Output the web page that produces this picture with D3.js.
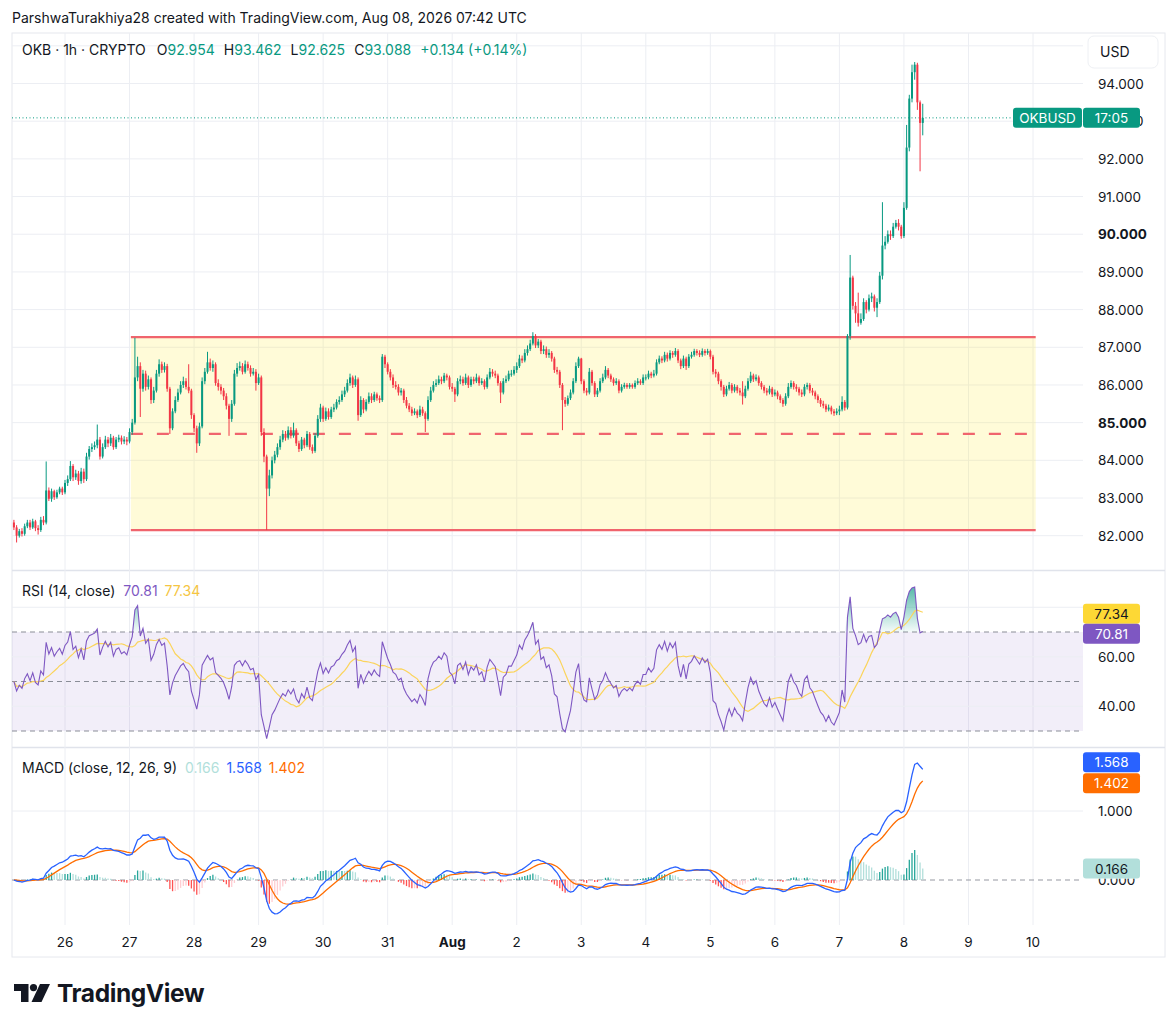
<!DOCTYPE html>
<html>
<head>
<meta charset="utf-8">
<script src="https://cdn.jsdelivr.net/npm/d3@7"></script>
<style>
  body { margin: 0; background: #fff; }
  svg { display: block; }
</style>
</head>
<body>
<div id="chart"></div>
<script>
// hourly OKB/USD bars, first bar Jul 25 05:00 UTC, last bar Aug 8 07:00 UTC
const firstBar = Date.UTC(2026, 6, 25, 5)
const firstOpen = 82.35

const closes = [
  // Jul 25
  82.22, 82.00, 82.12, 82.05, 82.25, 82.35, 82.22, 82.38, 82.20, 82.15, 82.42, 82.35, 83.20, 82.98, 83.18, 83.02, 83.15, 83.25, 83.15,
  // Jul 26
  83.40, 83.50, 83.85, 83.55, 83.65, 83.45, 83.70, 83.50, 84.10, 84.30, 84.35, 84.40, 84.55, 84.10, 84.35, 84.55, 84.45, 84.60, 84.35, 84.55, 84.60, 84.50, 84.55, 84.50,
  // Jul 27
  84.75, 85.00, 86.20, 86.50, 85.90, 86.30, 85.95, 86.15, 85.60, 85.85, 86.30, 86.55, 86.40, 86.50, 85.90, 84.85, 85.30, 85.60, 85.80, 86.00, 86.10, 85.95, 85.85, 85.20,
  // Jul 28
  84.85, 84.45, 84.90, 86.10, 86.35, 86.60, 86.45, 86.55, 86.05, 85.95, 85.85, 85.70, 85.45, 85.10, 85.50, 86.30, 86.45, 86.50, 86.35, 86.55, 86.45, 86.30, 86.35, 86.05,
  // Jul 29
  86.20, 84.75, 84.10, 83.25, 83.60, 84.00, 84.15, 84.35, 84.55, 84.70, 84.60, 84.80, 84.65, 84.80, 84.45, 84.30, 84.55, 84.40, 84.70, 84.35, 84.25, 84.65, 85.10, 85.40,
  // Jul 30
  85.10, 85.30, 85.15, 85.35, 85.40, 85.55, 85.60, 85.75, 85.85, 86.05, 86.20, 86.00, 86.15, 85.20, 85.60, 85.35, 85.55, 85.70, 85.60, 85.75, 85.65, 85.60, 86.75, 86.55,
  // Jul 31
  86.35, 86.20, 86.00, 85.95, 85.80, 85.85, 85.60, 85.45, 85.35, 85.25, 85.30, 85.20, 85.35, 85.25, 85.10, 85.60, 85.85, 86.00, 86.05, 86.15, 86.10, 86.25, 86.20, 85.95,
  // Aug 1
  85.90, 85.75, 86.10, 86.15, 86.05, 86.20, 86.00, 86.15, 86.10, 86.20, 86.05, 86.10, 85.95, 86.20, 86.35, 86.30, 86.25, 86.05, 85.80, 86.10, 86.15, 86.30, 86.30, 86.40,
  // Aug 2
  86.50, 86.70, 86.65, 86.85, 86.95, 87.10, 87.30, 87.05, 87.15, 86.90, 86.95, 86.80, 86.85, 86.70, 86.40, 86.35, 86.00, 85.60, 85.50, 85.65, 85.80, 86.10, 86.50, 86.70,
  // Aug 3
  86.10, 85.85, 85.80, 86.35, 86.05, 85.75, 85.85, 86.10, 86.20, 86.40, 86.25, 86.15, 86.05, 86.10, 85.85, 85.95, 86.00, 85.95, 86.00, 85.95, 86.05, 86.10, 86.05, 86.20,
  // Aug 4
  86.20, 86.30, 86.25, 86.30, 86.60, 86.70, 86.65, 86.80, 86.70, 86.85, 86.80, 86.90, 86.65, 86.50, 86.70, 86.50, 86.75, 86.80, 86.90, 86.85, 86.80, 86.90, 86.85, 86.90,
  // Aug 5
  86.75, 86.35, 86.30, 86.10, 85.95, 85.75, 85.90, 86.00, 85.85, 85.95, 85.85, 85.80, 85.70, 85.90, 86.10, 86.25, 86.15, 86.20, 86.05, 85.95, 85.85, 85.80, 85.90, 85.75,
  // Aug 6
  85.80, 85.70, 85.60, 85.50, 85.70, 85.95, 86.05, 85.95, 85.90, 85.80, 85.75, 85.95, 86.00, 85.85, 85.80, 85.70, 85.60, 85.50, 85.45, 85.35, 85.40, 85.30, 85.25, 85.30,
  // Aug 7
  85.35, 85.55, 85.40, 87.30, 88.85, 88.10, 87.90, 87.65, 87.75, 88.20, 88.00, 88.30, 88.35, 88.05, 88.20, 88.90, 89.70, 89.80, 90.00, 89.95, 90.20, 90.30, 90.20, 89.95,
  // Aug 8
  90.70, 92.30, 93.60, 94.30, 94.50, 93.50, 92.954, 93.088
]

const highs = [
  82.42, 82.28, 82.18, 82.20, 82.32, 82.42, 82.42, 82.45, 82.42, 82.28, 82.50, 82.52, 83.97, 83.28, 83.25, 83.22, 83.22, 83.30, 83.30,
  83.48, 83.60, 83.98, 83.90, 83.75, 83.72, 83.80, 83.78, 84.20, 84.38, 84.45, 84.50, 84.95, 84.62, 84.45, 84.65, 84.62, 84.70, 84.65, 84.62, 84.68, 84.66, 84.64, 84.62,
  84.85, 85.10, 87.25, 86.75, 86.60, 86.40, 86.38, 86.25, 86.20, 85.95, 86.40, 86.68, 86.62, 86.60, 86.56, 85.95, 85.38, 85.70, 85.90, 86.10, 86.22, 86.18, 86.55, 85.90,
  85.25, 84.92, 85.00, 86.20, 86.45, 86.88, 86.70, 86.65, 86.60, 86.15, 86.02, 85.92, 85.78, 85.50, 85.60, 86.40, 86.58, 86.62, 86.58, 86.65, 86.62, 86.52, 86.45, 86.42,
  86.30, 86.25, 84.85, 84.15, 83.75, 84.10, 84.25, 84.45, 84.65, 84.80, 84.78, 84.90, 84.88, 85.00, 84.85, 84.52, 84.62, 84.60, 84.78, 84.75, 84.42, 84.72, 85.20, 85.50,
  85.45, 85.40, 85.38, 85.42, 85.50, 85.62, 85.70, 85.85, 85.95, 86.15, 86.30, 86.25, 86.25, 86.20, 85.70, 85.65, 85.62, 85.80, 85.78, 85.82, 85.80, 85.72, 86.82, 86.80,
  86.60, 86.42, 86.28, 86.10, 86.02, 85.92, 85.90, 85.68, 85.52, 85.42, 85.38, 85.35, 85.45, 85.42, 85.30, 85.70, 85.95, 86.10, 86.15, 86.25, 86.22, 86.32, 86.30, 86.25,
  86.05, 85.95, 86.18, 86.25, 86.22, 86.30, 86.25, 86.22, 86.22, 86.30, 86.25, 86.18, 86.15, 86.28, 86.45, 86.42, 86.38, 86.30, 86.10, 86.18, 86.25, 86.38, 86.40, 86.50,
  86.60, 86.80, 86.78, 86.95, 87.05, 87.20, 87.40, 87.35, 87.22, 87.20, 87.05, 87.02, 86.95, 86.90, 86.75, 86.48, 86.40, 86.05, 85.68, 85.72, 85.88, 86.18, 86.60, 86.75,
  86.72, 86.15, 85.92, 86.45, 86.40, 86.10, 85.92, 86.18, 86.30, 86.50, 86.45, 86.30, 86.20, 86.18, 86.15, 86.02, 86.06, 86.05, 86.05, 86.04, 86.12, 86.18, 86.15, 86.28,
  86.28, 86.38, 86.35, 86.40, 86.68, 86.78, 86.76, 86.88, 86.86, 86.92, 86.90, 86.98, 86.95, 86.70, 86.78, 86.75, 86.82, 86.88, 86.96, 86.95, 86.92, 86.97, 86.95, 86.96,
  86.94, 86.80, 86.42, 86.35, 86.15, 86.00, 85.98, 86.08, 86.05, 86.02, 86.00, 85.92, 86.10, 85.98, 86.18, 86.35, 86.30, 86.28, 86.25, 86.10, 86.00, 85.92, 85.98, 85.95,
  85.88, 85.85, 85.75, 85.65, 85.78, 86.05, 86.12, 86.10, 86.02, 85.95, 85.88, 86.02, 86.06, 86.05, 85.92, 85.85, 85.75, 85.65, 85.58, 85.50, 85.48, 85.45, 85.36, 85.38,
  85.45, 85.70, 85.60, 87.35, 89.45, 88.90, 88.20, 88.45, 87.90, 88.30, 88.25, 88.40, 88.45, 88.40, 88.30, 89.00, 90.85, 89.95, 90.10, 90.10, 90.30, 90.38, 90.40, 90.25,
  90.85, 92.90, 93.70, 94.50, 94.57, 94.55, 93.55, 93.462
]

const lows = [
  82.15, 81.82, 81.95, 81.98, 82.00, 82.20, 82.15, 82.18, 82.12, 82.03, 82.10, 82.28, 82.30, 82.92, 82.90, 82.95, 82.98, 83.10, 83.08,
  83.10, 83.32, 83.45, 83.45, 83.48, 83.35, 83.38, 83.40, 83.45, 84.02, 84.22, 84.28, 84.32, 84.02, 84.05, 84.30, 84.35, 84.38, 84.28, 84.30, 84.48, 84.42, 84.43, 84.40,
  84.45, 84.68, 84.95, 86.10, 85.15, 85.82, 85.85, 85.88, 85.50, 85.52, 85.80, 86.22, 86.32, 86.33, 85.82, 84.70, 84.80, 85.25, 85.55, 85.75, 85.92, 85.88, 85.78, 85.10,
  84.75, 84.20, 84.38, 84.85, 86.02, 86.30, 86.38, 86.35, 85.98, 85.85, 85.75, 85.60, 85.35, 84.65, 85.02, 85.45, 86.22, 86.38, 86.28, 86.30, 86.38, 86.22, 86.25, 85.85,
  86.00, 84.65, 83.95, 82.15, 83.05, 83.52, 83.92, 84.08, 84.28, 84.48, 84.52, 84.55, 84.58, 84.60, 84.38, 84.22, 84.25, 84.32, 84.35, 84.28, 84.18, 84.20, 84.60, 85.02,
  85.02, 85.05, 85.08, 85.10, 85.28, 85.35, 85.48, 85.55, 85.68, 85.80, 85.98, 85.92, 85.95, 85.05, 85.15, 85.25, 85.30, 85.50, 85.52, 85.55, 85.58, 85.52, 85.55, 86.45,
  86.28, 86.12, 85.92, 85.88, 85.72, 85.72, 85.52, 85.38, 85.28, 85.18, 85.20, 85.12, 85.15, 85.18, 84.75, 85.05, 85.55, 85.80, 85.95, 86.00, 86.02, 86.05, 86.12, 85.88,
  85.82, 85.55, 85.70, 86.02, 85.98, 86.00, 85.92, 85.95, 86.02, 86.05, 85.98, 86.00, 85.88, 85.90, 86.15, 86.22, 86.18, 85.98, 85.52, 85.75, 86.05, 86.10, 86.22, 86.25,
  86.32, 86.45, 86.58, 86.60, 86.78, 86.90, 87.05, 86.98, 86.98, 86.82, 86.82, 86.72, 86.72, 86.62, 86.32, 86.28, 85.92, 84.80, 85.42, 85.45, 85.60, 85.75, 86.05, 86.45,
  86.02, 85.78, 85.72, 85.75, 85.98, 85.68, 85.68, 85.80, 86.05, 86.15, 86.18, 86.08, 85.98, 86.00, 85.78, 85.80, 85.90, 85.90, 85.90, 85.90, 85.90, 86.00, 86.00, 86.00,
  86.12, 86.15, 86.18, 86.20, 86.25, 86.55, 86.58, 86.60, 86.62, 86.65, 86.72, 86.75, 86.58, 86.42, 86.45, 86.40, 86.45, 86.70, 86.75, 86.78, 86.74, 86.75, 86.78, 86.80,
  86.68, 86.28, 86.20, 86.02, 85.85, 85.68, 85.70, 85.85, 85.78, 85.80, 85.78, 85.72, 85.48, 85.65, 85.85, 86.05, 86.08, 86.10, 85.98, 85.88, 85.78, 85.72, 85.75, 85.68,
  85.70, 85.62, 85.52, 85.42, 85.45, 85.65, 85.90, 85.88, 85.82, 85.72, 85.68, 85.70, 85.88, 85.78, 85.72, 85.62, 85.52, 85.42, 85.38, 85.28, 85.30, 85.22, 85.18, 85.20,
  85.20, 85.30, 85.32, 85.35, 87.20, 88.00, 87.65, 87.55, 87.60, 87.70, 87.90, 87.95, 88.20, 87.95, 87.80, 88.15, 88.80, 89.60, 89.75, 89.85, 89.90, 90.15, 90.10, 89.88,
  89.90, 90.65, 92.20, 93.50, 94.10, 93.30, 91.67, 92.625
]

// range box drawn on the chart
const boxStart = Date.UTC(2026, 6, 27, 0, 30)
const boxEnd = Date.UTC(2026, 7, 10, 1)
const boxTop = 87.27
const boxBottom = 82.15
const boxMid = 84.70

const priceTicks = [82, 83, 84, 85, 86, 87, 88, 89, 90, 91, 92, 93, 94, 95]
const boldPrices = [85, 90]
const dayLabels = ['26', '27', '28', '29', '30', '31', 'Aug', '2', '3', '4', '5', '6', '7', '8', '9', '10']
const rsiGrid = [80, 60, 40]
const rsiTickLabels = [60, 40]
const rsiBands = [70, 50, 30]
const macdGrid = [1]

const lastPrice = 93.088
const legendOHLC = [['O', '92.954'], ['H', '93.462'], ['L', '92.625'], ['C', '93.088']]
const legendChange = '+0.134 (+0.14%)'
const rsiLast = 70.81, rsiMaLast = 77.34
const histLast = 0.166, macdLast = 1.568, signalLast = 1.402
const countdown = '17:05'

const up = '#089981', down = '#f23645'
const ink = '#131722', grid = '#eceef3'

const W = 1176, H = 1029
const left = 12, plotRight = 1083, frameRight = 1165
const mainTop = 33, mainBottom = 570
const rsiTop = 571, rsiBottom = 747
const macdTop = 748, macdBottom = 925
const frameBottom = 957

const bars = closes.map((c, i) => ({
  t: new Date(firstBar + i * 3600e3),
  o: i ? closes[i - 1] : firstOpen,
  h: highs[i], l: lows[i], c
}))

// RSI 14 (Wilder); history before the window is unknown, so start from a neutral state
const diffs = closes.map((c, i) => i ? c - closes[i - 1] : 0)
let avgG = d3.mean(diffs.slice(1, 15), Math.abs) / 2
let avgL = avgG
bars.forEach((b, i) => {
  if (i) {
    avgG = (avgG * 13 + Math.max(diffs[i], 0)) / 14
    avgL = (avgL * 13 + Math.max(-diffs[i], 0)) / 14
  }
  b.rsi = avgL === 0 ? 100 : 100 - 100 / (1 + avgG / avgL)
})
bars.forEach((b, i) => {
  b.rsiMa = d3.mean(bars.slice(Math.max(0, i - 13), i + 1), d => d.rsi)
})

// MACD 12 26 9
function ema(values, n) {
  const k = 2 / (n + 1)
  let e = values[0]
  return values.map((v, i) => (e = i ? v * k + e * (1 - k) : v))
}
const e12 = ema(closes, 12), e26 = ema(closes, 26)
const macd = closes.map((c, i) => e12[i] - e26[i])
const signal = ema(macd, 9)
bars.forEach((b, i) => {
  b.macd = macd[i]
  b.signal = signal[i]
  b.hist = macd[i] - signal[i]
  const prev = i ? macd[i - 1] - signal[i - 1] : 0
  b.histColor = b.hist >= 0 ? (b.hist >= prev ? '#26a69a' : '#b2dfdb') : (b.hist <= prev ? '#ff5252' : '#ffcdd2')
})

const x = d3.scaleUtc()
  .domain([new Date(Date.UTC(2026, 6, 26)), new Date(Date.UTC(2026, 7, 10))])
  .range([65, 1033])
const y = d3.scaleLinear().domain([82, 94]).range([535.7, 83.5])
const yRsi = d3.scaleLinear().domain([30, 70]).range([731, 632])
const yMacd = d3.scaleLinear().domain([0, 1]).range([880, 811])

const svg = d3.select('#chart').append('svg')
  .attr('width', W).attr('height', H)
  .style('font-family', 'Inter, "Noto Sans", sans-serif')

const defs = svg.append('defs')
function clip(id, y0, y1) {
  defs.append('clipPath').attr('id', id).append('rect')
    .attr('x', left).attr('y', y0).attr('width', plotRight - left).attr('height', y1 - y0)
}
clip('clipMain', mainTop, mainBottom)
clip('clipRsi', rsiTop, rsiBottom)
clip('clipMacd', macdTop, macdBottom)
// only the sliver of a price label that peeks out to the right of the countdown badge
defs.append('clipPath').attr('id', 'clipPeek').append('rect')
  .attr('x', 1140).attr('y', 0).attr('width', 30).attr('height', H)

const grad = defs.append('linearGradient').attr('id', 'obFill')
  .attr('gradientUnits', 'userSpaceOnUse')
  .attr('x1', 0).attr('x2', 0).attr('y1', yRsi(90)).attr('y2', yRsi(70))
grad.append('stop').attr('offset', 0).attr('stop-color', up).attr('stop-opacity', 0.75)
grad.append('stop').attr('offset', 1).attr('stop-color', up).attr('stop-opacity', 0.04)

// header
svg.append('text').attr('x', 12).attr('y', 23)
  .attr('font-size', 14).attr('fill', ink)
  .text('ParshwaTurakhiya28 created with TradingView.com, Aug 08, 2026 07:42 UTC')

// frame and pane separators
svg.append('rect').attr('x', left).attr('y', mainTop)
  .attr('width', frameRight - left).attr('height', frameBottom - mainTop)
  .attr('fill', 'none').attr('stroke', '#e6e8ee')
;[rsiTop, macdTop].forEach(v => {
  svg.append('line').attr('x1', left).attr('x2', frameRight).attr('y1', v - 0.5).attr('y2', v - 0.5)
    .attr('stroke', '#e0e3eb').attr('stroke-width', 1.5)
})

// vertical day grid
const days = d3.utcDay.range(new Date(Date.UTC(2026, 6, 26)), new Date(Date.UTC(2026, 7, 11)))
svg.append('g').selectAll('line').data(days).join('line')
  .attr('x1', d => x(d)).attr('x2', d => x(d))
  .attr('y1', mainTop).attr('y2', macdBottom)
  .attr('stroke', grid)

// price grid
svg.append('g').attr('clip-path', 'url(#clipMain)')
  .selectAll('line').data(priceTicks).join('line')
  .attr('x1', left).attr('x2', plotRight)
  .attr('y1', d => y(d)).attr('y2', d => y(d))
  .attr('stroke', grid)

// range box
const main = svg.append('g').attr('clip-path', 'url(#clipMain)')
main.append('rect')
  .attr('x', x(boxStart)).attr('y', y(boxTop))
  .attr('width', x(boxEnd) - x(boxStart)).attr('height', y(boxBottom) - y(boxTop))
  .attr('fill', 'rgba(255, 235, 59, 0.2)')
;[boxTop, boxBottom].forEach(v => {
  main.append('line').attr('x1', x(boxStart)).attr('x2', x(boxEnd))
    .attr('y1', y(v)).attr('y2', y(v))
    .attr('stroke', '#f0646d').attr('stroke-width', 2.2)
})
main.append('line').attr('x1', x(boxStart)).attr('x2', x(boxEnd))
  .attr('y1', y(boxMid)).attr('y2', y(boxMid))
  .attr('stroke', '#f0646d').attr('stroke-width', 2.2).attr('stroke-dasharray', '12 14')

// last price dotted line
main.append('line').attr('x1', left).attr('x2', 1013)
  .attr('y1', y(lastPrice)).attr('y2', y(lastPrice))
  .attr('stroke', up).attr('stroke-dasharray', '1 2.5')

// candles
const colorOf = d => d.c >= d.o ? up : down
main.append('g').selectAll('line').data(bars).join('line')
  .attr('x1', d => x(d.t)).attr('x2', d => x(d.t))
  .attr('y1', d => y(d.h)).attr('y2', d => y(d.l))
  .attr('stroke', colorOf).attr('stroke-width', 1)
main.append('g').selectAll('rect').data(bars).join('rect')
  .attr('x', d => x(d.t) - 1).attr('width', 2)
  .attr('y', d => y(Math.max(d.o, d.c)))
  .attr('height', d => Math.max(1, Math.abs(y(d.o) - y(d.c))))
  .attr('fill', colorOf)

// legend
const leg = svg.append('text').attr('x', 22).attr('y', 55).attr('font-size', 14).attr('fill', ink)
leg.append('tspan').text('OKB · 1h · CRYPTO')
legendOHLC.forEach(([k, v], i) => {
  leg.append('tspan').attr('dx', i ? 9 : 11).text(k)
  leg.append('tspan').attr('fill', up).text(v)
})
leg.append('tspan').attr('dx', 9).attr('fill', up).text(legendChange)

// price axis labels (93 sits behind the last-price badge)
svg.append('g').selectAll('text').data(priceTicks.filter(v => v < 95)).join('text')
  .attr('x', 1098).attr('y', d => y(d) + 5)
  .attr('font-size', 13.5).attr('fill', ink)
  .attr('font-weight', d => boldPrices.includes(d) ? 700 : 400)
  .attr('clip-path', d => d === 93 ? 'url(#clipPeek)' : null)
  .text(d => d3.format('.3f')(d))

svg.append('rect').attr('x', 1088).attr('y', 36).attr('width', 70).attr('height', 32).attr('rx', 6)
  .attr('fill', '#fff').attr('stroke', '#eef0f4')
svg.append('text').attr('x', 1100).attr('y', 57).attr('font-size', 14).attr('fill', ink).text('USD')

function badge(x0, w, cy, fill, label, color) {
  const g = svg.append('g')
  g.append('rect').attr('x', x0).attr('y', cy - 10).attr('width', w).attr('height', 20).attr('rx', 3).attr('fill', fill)
  g.append('text').attr('x', x0 + w / 2).attr('y', cy + 5).attr('text-anchor', 'middle')
    .attr('font-size', 13.5).attr('fill', color).text(label)
}
badge(1013, 69, y(lastPrice), up, 'OKBUSD', '#fff')
badge(1083, 57, y(lastPrice), up, countdown, '#fff')

// RSI pane
const rsiG = svg.append('g').attr('clip-path', 'url(#clipRsi)')
rsiG.append('rect').attr('x', left).attr('width', plotRight - left)
  .attr('y', yRsi(70)).attr('height', yRsi(30) - yRsi(70))
  .attr('fill', 'rgba(126, 87, 194, 0.1)')
rsiG.selectAll('line.g').data(rsiGrid).join('line')
  .attr('x1', left).attr('x2', plotRight).attr('y1', d => yRsi(d)).attr('y2', d => yRsi(d))
  .attr('stroke', grid)
rsiG.selectAll('line.b').data(rsiBands).join('line')
  .attr('x1', left).attr('x2', plotRight).attr('y1', d => yRsi(d)).attr('y2', d => yRsi(d))
  .attr('stroke', '#8a8d97').attr('stroke-dasharray', '5 4')
rsiG.append('path').datum(bars)
  .attr('d', d3.area().x(d => x(d.t)).y0(yRsi(70)).y1(d => yRsi(Math.max(70, d.rsi))))
  .attr('fill', 'url(#obFill)')
rsiG.append('path').datum(bars)
  .attr('d', d3.line().x(d => x(d.t)).y(d => yRsi(d.rsiMa)))
  .attr('fill', 'none').attr('stroke', '#fbd45b').attr('stroke-width', 1.2)
rsiG.append('path').datum(bars)
  .attr('d', d3.line().x(d => x(d.t)).y(d => yRsi(d.rsi)))
  .attr('fill', 'none').attr('stroke', '#7e57c2').attr('stroke-width', 1.1)

const rsiLeg = svg.append('text').attr('x', 22).attr('y', 596).attr('font-size', 14).attr('fill', ink)
rsiLeg.append('tspan').text('RSI (14, close)')
rsiLeg.append('tspan').attr('dx', 8).attr('fill', '#7e57c2').text(rsiLast.toFixed(2))
rsiLeg.append('tspan').attr('dx', 7).attr('fill', '#f5c542').text(rsiMaLast.toFixed(2))

svg.append('g').selectAll('text').data(rsiTickLabels).join('text')
  .attr('x', 1098).attr('y', d => yRsi(d) + 5).attr('font-size', 13.5).attr('fill', ink)
  .text(d => d.toFixed(2))
const maY = yRsi(rsiMaLast)
badge(1083, 57, maY, '#fdd835', rsiMaLast.toFixed(2), ink)
badge(1083, 57, Math.max(yRsi(rsiLast), maY + 20), '#7e57c2', rsiLast.toFixed(2), '#fff')

// MACD pane
const macdG = svg.append('g').attr('clip-path', 'url(#clipMacd)')
macdG.selectAll('line.g').data(macdGrid).join('line')
  .attr('x1', left).attr('x2', plotRight).attr('y1', d => yMacd(d)).attr('y2', d => yMacd(d))
  .attr('stroke', grid)
macdG.append('line').attr('x1', left).attr('x2', plotRight)
  .attr('y1', yMacd(0)).attr('y2', yMacd(0))
  .attr('stroke', '#9598a1').attr('stroke-dasharray', '5 4')
macdG.append('g').selectAll('line').data(bars).join('line')
  .attr('x1', d => x(d.t)).attr('x2', d => x(d.t))
  .attr('y1', yMacd(0)).attr('y2', d => yMacd(d.hist))
  .attr('stroke', d => d.histColor).attr('stroke-width', 1.3)
macdG.append('path').datum(bars)
  .attr('d', d3.line().x(d => x(d.t)).y(d => yMacd(d.signal)))
  .attr('fill', 'none').attr('stroke', '#ff6d00').attr('stroke-width', 1.3)
macdG.append('path').datum(bars)
  .attr('d', d3.line().x(d => x(d.t)).y(d => yMacd(d.macd)))
  .attr('fill', 'none').attr('stroke', '#2962ff').attr('stroke-width', 1.3)

const macdLeg = svg.append('text').attr('x', 22).attr('y', 773).attr('font-size', 14).attr('fill', ink)
macdLeg.append('tspan').text('MACD (close, 12, 26, 9)')
macdLeg.append('tspan').attr('dx', 8).attr('fill', '#b2dfdb').text(histLast.toFixed(3))
macdLeg.append('tspan').attr('dx', 7).attr('fill', '#2962ff').text(macdLast.toFixed(3))
macdLeg.append('tspan').attr('dx', 7).attr('fill', '#ff6d00').text(signalLast.toFixed(3))

// macd axis labels; the 0.000 label shows only below the histogram badge
defs.append('clipPath').attr('id', 'clipZero').append('rect')
  .attr('x', 1083).attr('y', yMacd(histLast) + 10).attr('width', 90).attr('height', 30)
svg.append('g').selectAll('text').data([1, 0]).join('text')
  .attr('x', 1098).attr('y', d => yMacd(d) + 5).attr('font-size', 13.5).attr('fill', ink)
  .attr('clip-path', d => d === 0 ? 'url(#clipZero)' : null)
  .text(d => d.toFixed(3))
const sigY = yMacd(signalLast)
badge(1083, 57, Math.min(yMacd(macdLast), sigY - 21), '#2962ff', macdLast.toFixed(3), '#fff')
badge(1083, 57, sigY, '#ff6d00', signalLast.toFixed(3), '#fff')
badge(1083, 57, yMacd(histLast), '#b2dfdb', histLast.toFixed(3), ink)

// time axis
svg.append('g').selectAll('text').data(days).join('text')
  .attr('x', d => x(d)).attr('y', 947).attr('text-anchor', 'middle')
  .attr('font-size', 13.5).attr('fill', ink)
  .attr('font-weight', (d, i) => dayLabels[i] === 'Aug' ? 700 : 400)
  .text((d, i) => dayLabels[i])

// TradingView logo
const logo = svg.append('g').attr('fill', ink)
logo.append('path').attr('d', 'M14,984 H28.5 V1002 H21 V991 H14 Z')
logo.append('circle').attr('cx', 33.5).attr('cy', 987.6).attr('r', 3.6)
logo.append('path').attr('d', 'M40,984 H50 L41.5,1002 H31.5 Z')
logo.append('text').attr('x', 57).attr('y', 1002)
  .attr('font-size', 24.5).attr('font-weight', 700).attr('letter-spacing', -0.4)
  .text('TradingView')
</script>
</body>
</html>
